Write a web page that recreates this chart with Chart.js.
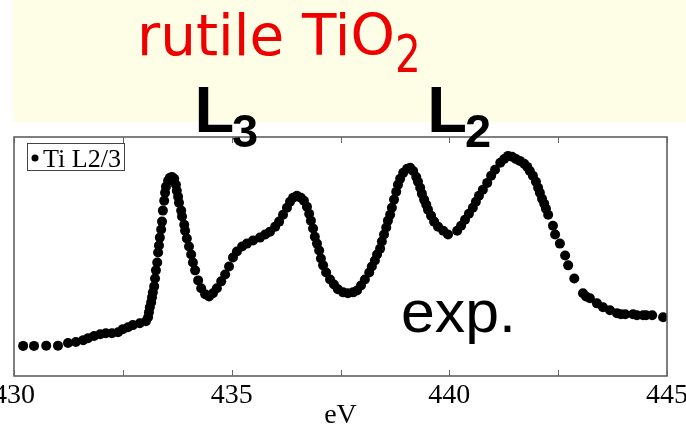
<!DOCTYPE html>
<html>
<head>
<meta charset="utf-8">
<script src="https://cdn.jsdelivr.net/npm/chart.js@4.4.1/dist/chart.umd.min.js"></script>
<style>
  html, body { margin: 0; padding: 0; background: #ffffff; }
  #wrap { position: relative; width: 686px; height: 425px; overflow: hidden; }
  canvas { display: block; }
</style>
</head>
<body>
<div id="wrap"><canvas id="c" width="686" height="425"></canvas></div>
<script>
// ---- Data (photon energy in eV, intensity in arbitrary units) ----
const energyEV = [
  430.21, 430.46, 430.74, 431.01, 431.24, 431.42, 431.59, 431.70, 431.84, 431.98,
  432.11, 432.25, 432.39, 432.50, 432.62, 432.73, 432.89, 433.03, 433.08, 433.10,
  433.12, 433.15, 433.17, 433.19, 433.22, 433.24, 433.26, 433.29, 433.31, 433.33,
  433.35, 433.38, 433.40, 433.42, 433.45, 433.47, 433.49, 433.54, 433.58, 433.63,
  433.68, 433.72, 433.74, 433.77, 433.79, 433.84, 433.86, 433.91, 433.93, 433.97,
  434.02, 434.07, 434.11, 434.16, 434.23, 434.30, 434.39, 434.48, 434.57, 434.66,
  434.76, 434.85, 434.94, 435.03, 435.12, 435.24, 435.35, 435.49, 435.65, 435.77,
  435.88, 436.00, 436.09, 436.18, 436.27, 436.34, 436.41, 436.50, 436.59, 436.66,
  436.73, 436.78, 436.82, 436.87, 436.91, 436.96, 437.01, 437.05, 437.10, 437.17,
  437.26, 437.35, 437.44, 437.56, 437.67, 437.79, 437.88, 437.97, 438.06, 438.16,
  438.22, 438.29, 438.34, 438.41, 438.45, 438.50, 438.55, 438.59, 438.64, 438.68,
  438.73, 438.78, 438.82, 438.87, 438.94, 439.03, 439.10, 439.17, 439.24, 439.28,
  439.33, 439.37, 439.42, 439.47, 439.51, 439.58, 439.65, 439.74, 439.86, 439.97,
  440.18, 440.27, 440.36, 440.45, 440.54, 440.61, 440.68, 440.77, 440.87, 440.96,
  441.05, 441.17, 441.26, 441.35, 441.44, 441.53, 441.62, 441.72, 441.79, 441.85,
  441.92, 441.99, 442.04, 442.08, 442.13, 442.18, 442.22, 442.27, 442.38, 442.43,
  442.54, 442.66, 442.73, 442.87, 443.07, 443.14, 443.23, 443.39, 443.53, 443.69,
  443.85, 443.94, 444.04, 444.22, 444.31, 444.45, 444.52, 444.66, 444.91
];
const intensity = [
  12.6, 12.6, 12.7, 12.7, 13.8, 14.2, 15.0, 15.8, 16.7, 17.5,
  17.9, 17.9, 18.3, 19.6, 20.4, 21.3, 22.1, 22.9, 24.6, 26.7,
  28.8, 30.8, 32.9, 35.0, 37.5, 40.8, 44.2, 47.5, 51.7, 54.6,
  57.9, 61.3, 64.6, 69.2, 73.3, 76.7, 79.2, 81.7, 82.9, 83.3,
  82.5, 80.0, 77.5, 75.0, 72.5, 69.2, 66.7, 63.3, 60.8, 57.5,
  54.2, 50.8, 47.5, 44.2, 40.0, 36.7, 34.2, 33.3, 34.6, 36.7,
  39.6, 42.5, 45.8, 49.6, 52.1, 54.2, 55.4, 56.7, 57.9, 59.2,
  60.4, 62.5, 64.6, 67.5, 70.4, 72.9, 74.6, 75.4, 74.6, 73.3,
  70.8, 67.9, 65.0, 61.7, 58.3, 55.4, 52.5, 49.2, 46.3, 43.3,
  40.4, 38.3, 36.3, 35.0, 34.6, 35.0, 35.8, 37.9, 40.4, 43.3,
  45.8, 48.3, 50.8, 53.3, 56.3, 59.2, 62.1, 65.0, 67.5, 70.4,
  73.8, 77.1, 80.0, 82.5, 85.0, 86.7, 87.1, 85.8, 83.3, 81.3,
  78.8, 76.3, 73.8, 71.7, 69.6, 67.1, 64.6, 62.5, 60.8, 59.2,
  60.8, 62.9, 65.4, 67.9, 70.4, 72.9, 75.4, 77.9, 80.8, 83.8,
  86.3, 89.2, 90.8, 92.1, 91.7, 90.8, 90.0, 88.8, 87.5, 85.8,
  83.8, 81.3, 78.8, 76.7, 74.2, 72.1, 70.0, 67.5, 62.9, 59.2,
  55.4, 50.4, 46.3, 40.8, 34.6, 33.3, 32.5, 30.4, 28.8, 27.5,
  26.3, 25.8, 25.8, 25.8, 25.4, 25.4, 25.4, 25.4, 24.6
];
const xMin = 430, xMax = 445;
const majorTicks = [430, 435, 440, 445];
const minorTicks = [432.5, 437.5, 442.5];
const seriesLabel = 'Ti L2/3';
const axisTitle = 'eV';
const headerTitle = 'rutile TiO';
const headerSub = '2';
const edgeLabels = [{ main: 'L', sub: '3', at: 435.01 }, { main: 'L', sub: '2', at: 440.36 }];
const noteText = 'exp.';

const points = energyEV.map((e, i) => ({ x: e, y: intensity[i] }));

function stretchText(ctx, text, x, y, sx) {
  ctx.save();
  ctx.translate(x, y);
  ctx.scale(sx, 1);
  ctx.fillText(text, 0, 0);
  ctx.restore();
}

const decorPlugin = {
  id: 'decor',
  beforeDraw(chart) {
    const ctx = chart.ctx;
    ctx.save();
    ctx.fillStyle = '#fefee6';
    ctx.fillRect(13, 0, chart.width - 13, 122);
    ctx.restore();
  },
  afterDatasetsDraw(chart) {
    const ctx = chart.ctx;
    const a = chart.chartArea;
    const xs = chart.scales.x;
    ctx.save();
    // frame
    ctx.strokeStyle = '#555555';
    ctx.lineWidth = 1.5;
    ctx.strokeRect(a.left, a.top, a.right - a.left, a.bottom - a.top);
    // inward ticks, top and bottom
    ctx.lineWidth = 1;
    ctx.strokeStyle = '#666666';
    majorTicks.concat(minorTicks).forEach(v => {
      const px = Math.round(xs.getPixelForValue(v)) + 0.5;
      ctx.beginPath();
      ctx.moveTo(px, a.bottom); ctx.lineTo(px, a.bottom - 6);
      ctx.moveTo(px, a.top); ctx.lineTo(px, a.top + 6);
      ctx.stroke();
    });
    // legend box
    ctx.strokeStyle = '#444444';
    ctx.lineWidth = 1;
    ctx.strokeRect(27.5, 143.5, 97, 27);
    ctx.fillStyle = '#000000';
    ctx.beginPath();
    ctx.arc(35, 158, 3.5, 0, Math.PI * 2);
    ctx.fill();
    ctx.font = '26px "Liberation Serif", "Times New Roman", serif';
    ctx.textBaseline = 'alphabetic';
    ctx.textAlign = 'left';
    const tw = ctx.measureText(seriesLabel).width;
    stretchText(ctx, seriesLabel, 43, 166.5, Math.min(1.15, 78 / tw));
    ctx.restore();
  },
  afterDraw(chart) {
    const ctx = chart.ctx;
    const xs = chart.scales.x;
    ctx.save();
    ctx.textBaseline = 'alphabetic';
    ctx.textAlign = 'left';
    // red header
    ctx.fillStyle = '#ee0000';
    ctx.font = '57px "DejaVu Sans", sans-serif';
    stretchText(ctx, headerTitle, 137, 55, 0.99);
    const w = ctx.measureText(headerTitle).width * 0.99;
    ctx.font = '52px "DejaVu Sans", sans-serif';
    stretchText(ctx, headerSub, 137 + w, 72, 0.78);
    // L3 / L2 labels
    ctx.fillStyle = '#000000';
    edgeLabels.forEach(l => {
      const cx = xs.getPixelForValue(l.at);
      ctx.font = 'bold 65px "Liberation Sans", Arial, sans-serif';
      const lw = ctx.measureText(l.main).width;
      ctx.fillText(l.main, cx - lw + 2, 132);
      ctx.font = 'bold 47px "Liberation Sans", Arial, sans-serif';
      ctx.fillText(l.sub, cx, 147);
    });
    // exp.
    ctx.font = '59px "Liberation Sans", Arial, sans-serif';
    stretchText(ctx, noteText, 401, 332, 1.03);
    ctx.restore();
  }
};

new Chart(document.getElementById('c'), {
  type: 'scatter',
  data: {
    datasets: [{
      label: seriesLabel,
      data: points,
      showLine: false,
      pointRadius: 5,
      pointHoverRadius: 5,
      pointBackgroundColor: '#000000',
      pointBorderColor: '#000000',
      pointBorderWidth: 0
    }]
  },
  options: {
    responsive: false,
    animation: false,
    devicePixelRatio: 1,
    layout: { autoPadding: false, padding: { left: 14, right: 19, top: 137, bottom: 0 } },
    plugins: { legend: { display: false }, tooltip: { enabled: false }, title: { display: false } },
    scales: {
      x: {
        type: 'linear',
        min: xMin, max: xMax,
        afterBuildTicks(scale) { scale.ticks = majorTicks.map(v => ({ value: v })); },
        afterFit(scale) { scale.height = 49; scale.paddingLeft = 0; scale.paddingRight = 0; },
        grid: { display: false, drawTicks: false },
        border: { display: false },
        ticks: {
          padding: 3,
          color: '#000000',
          maxRotation: 0,
          autoSkip: false,
          font: { family: '"Liberation Serif", "Times New Roman", serif', size: 28 },
          callback: v => String(v)
        },
        title: {
          display: true,
          text: axisTitle,
          color: '#000000',
          padding: { top: 0, bottom: -7 },
          font: { family: '"Liberation Serif", "Times New Roman", serif', size: 28 }
        }
      },
      y: { display: false, min: 0, max: 100 }
    }
  },
  plugins: [decorPlugin]
});
</script>
</body>
</html>
